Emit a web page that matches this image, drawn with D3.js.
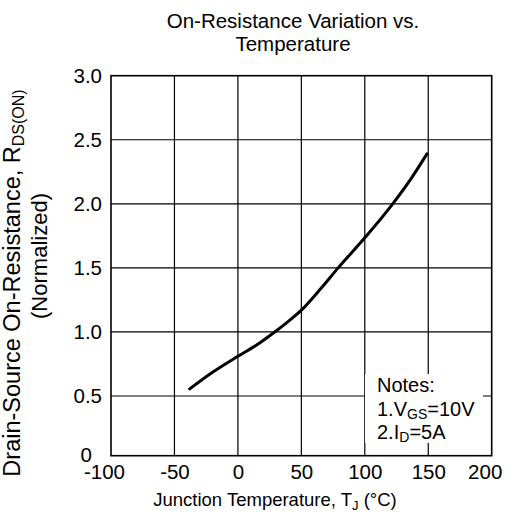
<!DOCTYPE html>
<html>
<head>
<meta charset="utf-8">
<script src="https://cdn.jsdelivr.net/npm/d3@7"></script>
<style>
  html, body { margin: 0; padding: 0; background: #fff; }
  svg { display: block; font-family: "Liberation Sans", Arial, Helvetica, sans-serif; }
</style>
</head>
<body>
<svg id="chart" width="511" height="530"></svg>
<script>
// ---- data ----
const tempC = [-38, -20, 0, 15, 29, 40, 50, 65, 79, 100, 122, 137, 149];
const rdsOn = [0.555, 0.685, 0.81, 0.9, 1.0, 1.085, 1.17, 1.335, 1.5, 1.735, 2.0, 2.205, 2.39];
const xTicks = [-100, -50, 0, 50, 100, 150, 200];
const yTicks = [0, 0.5, 1.0, 1.5, 2.0, 2.5, 3.0];
const titleLines = ["On-Resistance Variation vs.", "Temperature"];
const notes = [["Notes:", ""], ["1.V", "GS", "=10V"], ["2.I", "D", "=5A"]];

const svg = d3.select("#chart");
const L = 111, R = 491.7, T = 75.7, B = 455.7;

const x = d3.scaleLinear().domain([-100, 200]).range([L, R]);
const y = d3.scaleLinear().domain([0, 0.5, 3]).range([B, 396, T]);

// grid
const g = svg.append("g");
g.selectAll(".vg").data(xTicks.slice(1, -1)).join("line")
  .attr("x1", d => x(d)).attr("x2", d => x(d))
  .attr("y1", T).attr("y2", B)
  .attr("stroke", "#000").attr("stroke-width", 1.2);
g.selectAll(".hg").data(yTicks.slice(1, -1)).join("line")
  .attr("x1", L).attr("x2", R)
  .attr("y1", d => y(d)).attr("y2", d => y(d))
  .attr("stroke", "#000").attr("stroke-width", 1.2);

// notes box (covers grid)
const nb = svg.append("g");
nb.append("rect").attr("x", 365).attr("y", 374).attr("width", 118).attr("height", 69).attr("fill", "#fff");

// frame
svg.append("rect").attr("x", L).attr("y", T).attr("width", R - L).attr("height", B - T)
  .attr("fill", "none").attr("stroke", "#000").attr("stroke-width", 1.6);

// curve
const pts = tempC.map((t, i) => [t, rdsOn[i]]);
svg.append("path").datum(pts)
  .attr("d", d3.line().x(d => x(d[0])).y(d => y(d[1])).curve(d3.curveMonotoneX))
  .attr("fill", "none").attr("stroke", "#000").attr("stroke-width", 3).attr("stroke-linecap", "round");

// axes (labels only)
const xa = svg.append("g").attr("transform", `translate(0,${B})`)
  .call(d3.axisBottom(x).tickValues(xTicks).tickSize(0).tickPadding(9).tickFormat(d => String(d)));
xa.select(".domain").remove();
xa.selectAll("text").attr("font-size", 20.5).attr("fill", "#000").attr("font-family", null);
xa.selectAll(".tick").filter(d => d === xTicks[0] || d === xTicks[xTicks.length - 1])
  .select("text").attr("dx", -7);

const ya = svg.append("g").attr("transform", `translate(${L},0)`)
  .call(d3.axisLeft(y).tickValues(yTicks).tickSize(0).tickPadding(9)
    .tickFormat(d => d === 0 ? "0" : d3.format(".1f")(d)));
ya.select(".domain").remove();
ya.selectAll("text").attr("font-size", 20.5).attr("fill", "#000").attr("font-family", null);
ya.selectAll(".tick").filter(d => d === 0).select("text").attr("dx", -10).attr("dy", "0.3em");

// title
svg.append("g").selectAll("text").data(titleLines).join("text")
  .attr("x", 293).attr("y", (d, i) => 28 + i * 23)
  .attr("text-anchor", "middle").attr("font-size", 20.5).text(d => d);

// x label
const xl = svg.append("text").attr("x", 275).attr("y", 506).attr("text-anchor", "middle").attr("font-size", 18.5);
xl.append("tspan").text("Junction Temperature, T");
xl.append("tspan").attr("font-size", 13).attr("dy", 4).text("J");
xl.append("tspan").attr("dy", -4).text(" (°C)");

// y label
const yl1 = svg.append("text").attr("transform", "translate(20,283) rotate(-90)")
  .attr("text-anchor", "middle").attr("font-size", 23.5);
yl1.append("tspan").text("Drain-Source On-Resistance, R");
yl1.append("tspan").attr("font-size", 16).attr("dy", 4).text("DS(ON)");
svg.append("text").attr("transform", "translate(47,256) rotate(-90)")
  .attr("text-anchor", "middle").attr("font-size", 22).text("(Normalized)");

// notes text
const nt = nb.append("g");
notes.forEach((n, i) => {
  const t = nt.append("text").attr("x", 377).attr("y", 392 + i * 23.5).attr("font-size", 20);
  t.append("tspan").text(n[0]);
  if (n[1]) {
    t.append("tspan").attr("font-size", 14).attr("dy", 3).text(n[1]);
    t.append("tspan").attr("dy", -3).text(n[2]);
  }
});
</script>
</body>
</html>
